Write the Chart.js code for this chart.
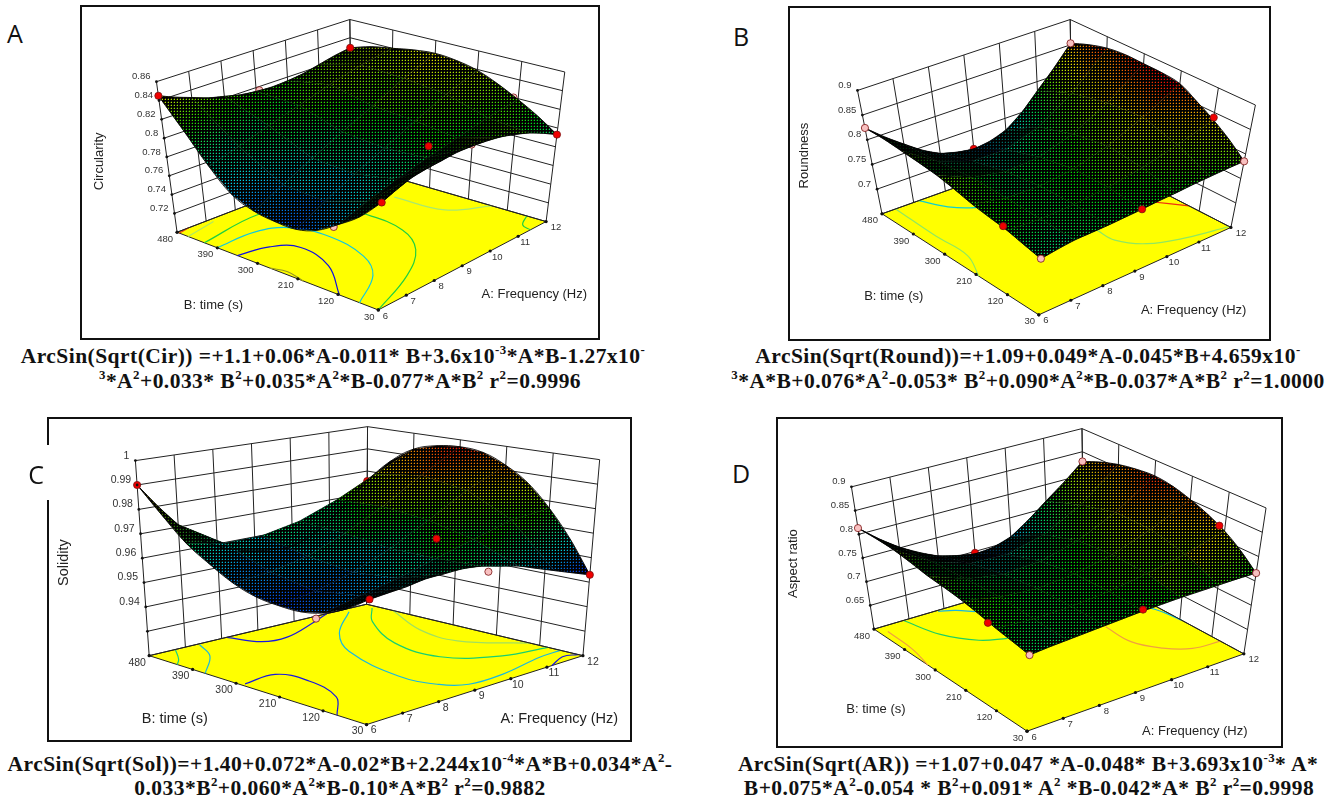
<!DOCTYPE html>
<html>
<head>
<meta charset="utf-8">
<title>Response surfaces</title>
<script src="https://cdn.jsdelivr.net/npm/chart.js@4"></script>
<style>
    html, body { margin: 0; background: #fff; }
    body { position: relative; width: 1342px; height: 800px; overflow: hidden; }
    canvas { position: absolute; display: block; }
    .box { position: absolute; border: 2px solid #111; box-sizing: border-box; pointer-events: none; }
    .patch { position: absolute; background: #fff; }
    .letter { position: absolute; font: 25px "Open Sans", sans-serif; color: #111; transform: translate(-50%, -50%); }
    .cap { position: absolute; font: bold 21.5px "Liberation Serif", serif; letter-spacing: 0.45px; color: #111; white-space: nowrap; transform: translate(-50%, -50%); }
    .cap sup { font-size: 0.6em; line-height: 0; }
</style>
</head>
<body>
<div class="patch" style="left:40px;top:445px;width:14px;height:55px;z-index:3"></div>
<div class="letter" style="left:15px;top:33px">A</div>
<div class="letter" style="left:741px;top:36px">B</div>
<div class="letter" style="left:36px;top:474px;z-index:4">C</div>
<div class="letter" style="left:741px;top:473px">D</div>

<div class="cap" style="left:333px;top:356px">ArcSin(Sqrt(Cir)) =+1.1+0.06*A-0.011* B+3.6x10<sup>-3</sup>*A*B-1.27x10<sup>-</sup></div>
<div class="cap" style="left:340px;top:381px"><sup>3</sup>*A<sup>2</sup>+0.033* B<sup>2</sup>+0.035*A<sup>2</sup>*B-0.077*A*B<sup>2</sup> r<sup>2</sup>=0.9996</div>
<div class="cap" style="left:1028px;top:356px">ArcSin(Sqrt(Round))=+1.09+0.049*A-0.045*B+4.659x10<sup>-</sup></div>
<div class="cap" style="left:1028px;top:381px"><sup>3</sup>*A*B+0.076*A<sup>2</sup>-0.053* B<sup>2</sup>+0.090*A<sup>2</sup>*B-0.037*A*B<sup>2</sup> r<sup>2</sup>=1.0000</div>
<div class="cap" style="left:340px;top:764px">ArcSin(Sqrt(Sol))=+1.40+0.072*A-0.02*B+2.244x10<sup>-4</sup>*A*B+0.034*A<sup>2</sup>-</div>
<div class="cap" style="left:340px;top:788px">0.033*B<sup>2</sup>+0.060*A<sup>2</sup>*B-0.10*A*B<sup>2</sup> r<sup>2</sup>=0.9882</div>
<div class="cap" style="left:1028px;top:764px">ArcSin(Sqrt(AR)) =+1.07+0.047 *A-0.048* B+3.693x10<sup>-3</sup>* A*</div>
<div class="cap" style="left:1029px;top:788px">B+0.075*A<sup>2</sup>-0.054 * B<sup>2</sup>+0.091* A<sup>2</sup> *B-0.042*A* B<sup>2</sup> r<sup>2</sup>=0.9998</div>

<script>
// ===== DATA =====
const freqTicks = [6, 7, 8, 9, 10, 11, 12];
const timeTicks = [480, 390, 300, 210, 120, 30];

const circularityTicks = [0.7, 0.72, 0.74, 0.76, 0.78, 0.8, 0.82, 0.84, 0.86];
const roundnessTicks = [0.65, 0.7, 0.75, 0.8, 0.85, 0.9];
const solidityTicks = [0.92, 0.93, 0.94, 0.95, 0.96, 0.97, 0.98, 0.99, 1];
const aspectTicks = [0.6, 0.65, 0.7, 0.75, 0.8, 0.85, 0.9];

// one row per time tick, one column per frequency tick
const circularity = [
    [.845, .832, .822, .816, .816, .822, .829],
    [.786, .795, .805, .815, .825, .834, .840],
    [.755, .770, .785, .800, .815, .832, .846],
    [.752, .768, .783, .797, .812, .827, .839],
    [.773, .783, .792, .800, .807, .814, .819],
    [.812, .823, .826, .826, .821, .810, .793]
];
const roundness = [
    [.824, .768, .726, .712, .727, .782, .853],
    [.817, .771, .748, .747, .768, .811, .877],
    [.806, .777, .764, .768, .789, .826, .880],
    [.787, .774, .772, .780, .801, .832, .874],
    [.774, .770, .772, .780, .792, .811, .835],
    [.757, .766, .768, .772, .777, .782, .785]
];
const solidity = [
    [.990, .971, .959, .954, .953, .961, .976],
    [.971, .968, .968, .971, .977, .985, .993],
    [.960, .961, .964, .970, .978, .988, .997],
    [.956, .958, .962, .968, .976, .985, .992],
    [.958, .961, .964, .968, .972, .976, .977],
    [.968, .969, .970, .969, .965, .959, .953]
];
const aspectRatio = [
    [.813, .752, .712, .695, .710, .765, .829],
    [.809, .761, .736, .733, .752, .793, .857],
    [.794, .765, .752, .756, .776, .813, .867],
    [.783, .767, .761, .767, .784, .812, .851],
    [.766, .761, .762, .768, .780, .796, .819],
    [.752, .757, .761, .765, .767, .767, .766]
];

// outline of each surface read half way between ticks:
// time 480 and time 30 edges (by frequency), frequency 6 and frequency 12 edges (by time)
const circularityB480 = [.838, .826, .818, .815, .818, .826];
const circularityB30 = [.818, .825, .827, .824, .816, .802];
const circularityA6 = [.815, .764, .752, .759, .789];
const circularityA12 = [.836, .844, .844, .830, .807];

const roundnessB480 = [.794, .744, .717, .716, .750, .815];
const roundnessB30 = [.762, .767, .770, .775, .780, .784];
const roundnessA6 = [.822, .812, .797, .780, .765];
const roundnessA12 = [.867, .881, .879, .855, .812];

const solidityB480 = [.980, .964, .956, .953, .956, .968];
const solidityB30 = [.9685, .970, .970, .967, .962, .956];
const solidityA6 = [.980, .965, .957, .956, .962];
const solidityA12 = [.986, .996, .996, .986, .966];

const aspectB480 = [.780, .730, .702, .698, .735, .795];
const aspectB30 = [.755, .759, .763, .766, .767, .767];
const aspectA6 = [.812, .802, .789, .775, .759];
const aspectA12 = [.845, .864, .862, .837, .795];

// design points as [frequency, time, response]
const circularityRed = [[6, 480, .845], [12, 480, .829], [12, 30, .793], [6, 30, .812], [8.7, 100, .82]];
const circularityPink = [[9.1, 480, .816], [12, 130, .82], [9, 30, .828], [6, 129, .769]];
const roundnessRed = [[12, 120, .84], [9, 30, .772], [6, 130, .778]];
const roundnessHidden = [[9, 480, .712]];
const roundnessPink = [[6, 480, .824], [12, 480, .853], [12, 30, .785], [6, 30, .757]];
const solidityRed = [[6, 480, .99], [12, 30, .953], [6, 30, .968], [9, 120, .976]];
const solidityHidden = [[12, 480, .9755]];
const solidityPink = [[9.2, 30, .966], [6, 135, .955]];
const aspectRed = [[12, 134, .825], [9, 30, .768], [6, 142, .768]];
const aspectHidden = [[9, 480, .697]];
const aspectPink = [[6, 480, .813], [12, 480, .829], [12, 30, .766], [6, 30, .752]];

// contour lines on the floor as [frequency, time]
const circularityLines = [
    [[6, 345], [6.9, 331], [7.37, 291], [7.03, 207], [6, 117]],
    [[6, 272], [6.13, 241], [6, 198]],
    [[6, 390], [7.3, 391], [8.07, 362], [8.3, 288], [7.97, 188], [7.3, 124], [6, 72]],
    [[6, 419], [8.16, 439], [9.67, 406], [9.84, 310], [9.68, 210], [9.02, 137], [7.8, 79], [6, 30]],
    [[11.06, 319], [11.18, 210], [12, 156]],
    [[12, 75], [11.55, 55], [11.44, 30]],
    [[6, 455], [7.1, 470]],
    [[6, 475], [6.4, 480]]
];
const circularityLineColors = ["#1010e0", "#9a9a20", "#10c8e0", "#20d040", "#a8e870", "#20d040", "#b0e860", "#f04010"];

const roundnessLines = [
    [[7.16, 480], [7.54, 431], [8.05, 399], [8.8, 380]],
    [[6.43, 480], [6.38, 359], [6.4, 271], [6, 202]],
    [[9.6, 195], [9.6, 142], [10.05, 92], [10.9, 59], [12, 35]],
    [[11.45, 213], [12, 149]]
];
const roundnessLineColors = ["#10d0d0", "#90e860", "#90e860", "#f03010"];

const solidityLines = [
    [[8.14, 480], [8.44, 430], [9.05, 423], [10.3, 459], [10.9, 480]],
    [[6.1, 289], [7, 294], [7.18, 241], [6.82, 154], [6, 91]],
    [[7.34, 476], [6.93, 424], [6, 364]],
    [[6.72, 480], [6.28, 440], [6, 422]],
    [[11.33, 466], [10, 386], [9.2, 306], [8.66, 163], [8.8, 89], [9.2, 57], [10.1, 55], [11.4, 75], [12, 77]],
    [[11.86, 458], [11.1, 400], [10.26, 291], [10.16, 189], [11, 123], [12, 103]],
    [[12, 425], [11.3, 317], [11.2, 231], [12, 140]],
    [[11.14, 30], [11.7, 50], [12, 40]]
];
const solidityLineColors = ["#1818e0", "#1818e0", "#18b8e0", "#18d080", "#18b8e0", "#18d070", "#a0e060", "#1818e0"];

const aspectLines = [
    [[6.2, 460], [6.16, 382], [6, 322]],
    [[6.84, 480], [7.14, 403], [7.7, 348], [8.3, 326]],
    [[7.8, 477], [8.17, 463], [8.5, 441]],
    [[11.84, 283], [11.95, 245], [12, 205]],
    [[10.45, 264], [10.44, 191], [10.8, 137], [11.3, 104], [12, 96]]
];
const aspectLineColors = ["#f0a040", "#20d060", "#18b8e0", "#18b8e0", "#f0a040"];

// ===== PANEL LAYOUT =====
const panels = [
    {
        name: "Circularity", box: [80, 5, 600, 340], values: circularity, zTicks: circularityTicks, zShown: 1,
        b480: circularityB480, b30: circularityB30, a6: circularityA6, a12: circularityA12,
        floor: [[174, 234], [352, 165], [379, 314], [550, 223]],
        top: [[153, 79], [350, 15], [384, 156], [569, 69]],
        red: circularityRed, hidden: [], pink: circularityPink, lines: circularityLines, lineColors: circularityLineColors,
        colorRange: [.74, .88], tickFont: 9.5, titleFont: 13,
        aTitle: [538, 298], bTitle: [211, 309], zTitle: [95, 161]
    },
    {
        name: "Roundness", box: [788, 6, 1271, 341], values: roundness, zTicks: roundnessTicks, zShown: 1,
        b480: roundnessB480, b30: roundnessB30, a6: roundnessA6, a12: roundnessA12,
        floor: [[879, 215], [1073, 145], [1039, 319], [1235, 229]],
        top: [[854, 88], [1071, 15], [1044, 184], [1260, 103]],
        red: roundnessRed, hidden: roundnessHidden, pink: roundnessPink, lines: roundnessLines, lineColors: roundnessLineColors,
        colorRange: [.68, .88], tickFont: 9.5, titleFont: 13,
        aTitle: [1197, 314], bTitle: [891, 300], zTitle: [800, 155]
    },
    {
        name: "Solidity", box: [47, 417, 632, 742], values: solidity, zTicks: solidityTicks, zShown: 2,
        b480: solidityB480, b30: solidityB30, a6: solidityA6, a12: solidityA12,
        floor: [[146, 658], [367, 605], [367, 729], [587, 658]],
        top: [[132, 457], [368, 422], [372, 514], [604, 456]],
        red: solidityRed, hidden: solidityHidden, pink: solidityPink, lines: solidityLines, lineColors: solidityLineColors,
        colorRange: [.953, .997], tickFont: 10.5, titleFont: 14.5,
        aTitle: [563, 723], bTitle: [172, 723], zTitle: [59, 562]
    },
    {
        name: "Aspect ratio", box: [776, 417, 1283, 748], values: aspectRatio, zTicks: aspectTicks, zShown: 1,
        b480: aspectB480, b30: aspectB30, a6: aspectA6, a12: aspectA12,
        floor: [[871, 630.5], [1085, 567], [1027, 735.6], [1248, 656]],
        top: [[848, 484], [1083, 424], [1032, 581], [1270.6, 505.7]],
        red: aspectRed, hidden: aspectHidden, pink: aspectPink, lines: aspectLines, lineColors: aspectLineColors,
        colorRange: [.67, .87], tickFont: 9.5, titleFont: 13,
        aTitle: [1198, 736], bTitle: [873, 713], zTitle: [789, 563]
    }
];

// ===== PROJECTION =====
function bilerp(corners, s, t, k) {
    const far = corners[0][k] + (corners[1][k] - corners[0][k]) * s;
    const near = corners[2][k] + (corners[3][k] - corners[2][k]) * s;
    return far + (near - far) * t;
}

function project(p, freq, time, z) {
    const s = (freq - 6) / 6;
    const t = (480 - time) / 450;
    const zMin = p.zTicks[0];
    const w = (z - zMin) / (p.zTicks[p.zTicks.length - 1] - zMin);
    const fx = bilerp(p.floor, s, t, 0);
    const fy = bilerp(p.floor, s, t, 1);
    return {
        x: fx + (bilerp(p.top, s, t, 0) - fx) * w,
        y: fy + (bilerp(p.top, s, t, 1) - fy) * w
    };
}

// ===== COLOURS =====
const palette = [[0, 0, 230], [0, 210, 230], [0, 220, 0], [240, 230, 0], [235, 0, 0]];

function colourFor(p, z, bright) {
    let v = (z - p.colorRange[0]) / (p.colorRange[1] - p.colorRange[0]);
    v = Math.max(0, Math.min(0.9999, v)) * (palette.length - 1);
    const i = Math.floor(v);
    const f = v - i;
    const rgb = [0, 1, 2].map(k => Math.round((palette[i][k] + (palette[i + 1][k] - palette[i][k]) * f) * bright));
    return `rgb(${rgb[0]},${rgb[1]},${rgb[2]})`;
}

function makeDotPattern(ctx) {
    const tile = document.createElement("canvas");
    tile.width = 3;
    tile.height = 3;
    const tc = tile.getContext("2d");
    tc.fillStyle = "#000";
    tc.fillRect(0, 0, 3, 3);
    tc.clearRect(1, 1, 1, 1);
    tc.clearRect(0, 1, 1, 1);
    tc.clearRect(1, 0, 1, 1);
    tc.fillStyle = "rgba(0,0,0,0.72)";
    tc.fillRect(0, 1, 1, 1);
    tc.fillRect(1, 0, 1, 1);
    return ctx.createPattern(tile, "repeat");
}

function polyArea(pts) {
    let a = 0;
    pts.forEach((q, i) => {
        const n = pts[(i + 1) % pts.length];
        a += q.x * n.y - n.x * q.y;
    });
    return Math.abs(a) / 2;
}

// ===== DATASETS =====
function lineSet(points, color, width) {
    return { data: points, showLine: true, borderColor: color, borderWidth: width, pointRadius: 0, fill: false };
}

function dotSet(p, list, fillColor) {
    return {
        data: list.map(d => project(p, d[0], d[1], d[2])),
        showLine: false, pointRadius: 3.6, pointBackgroundColor: fillColor,
        pointBorderColor: "#7a1010", pointBorderWidth: 0.8
    };
}

// corners of one mesh cell, with the half-way outline points where it touches an edge
function cellOutline(p, r, c) {
    const v = p.values;
    const pts = [];
    const lastC = freqTicks.length - 2;
    const lastR = timeTicks.length - 2;
    const midF = freqTicks[c] + 0.5;
    const midT = (timeTicks[r] + timeTicks[r + 1]) / 2;
    pts.push(project(p, freqTicks[c], timeTicks[r], v[r][c]));
    if (r == 0) pts.push(project(p, midF, 480, p.b480[c]));
    pts.push(project(p, freqTicks[c + 1], timeTicks[r], v[r][c + 1]));
    if (c == lastC) pts.push(project(p, 12, midT, p.a12[r]));
    pts.push(project(p, freqTicks[c + 1], timeTicks[r + 1], v[r + 1][c + 1]));
    if (r == lastR) pts.push(project(p, midF, 30, p.b30[c]));
    pts.push(project(p, freqTicks[c], timeTicks[r + 1], v[r + 1][c]));
    if (c == 0) pts.push(project(p, 6, midT, p.a6[r]));
    return pts;
}

function edgeLine(p, fixed, isFreq, rows, mids) {
    const pts = [];
    const ticks = isFreq ? timeTicks : freqTicks;
    ticks.forEach((tick, i) => {
        pts.push(isFreq ? project(p, fixed, tick, rows[i]) : project(p, tick, fixed, rows[i]));
        if (i < mids.length) {
            const mid = (tick + ticks[i + 1]) / 2;
            pts.push(isFreq ? project(p, fixed, mid, mids[i]) : project(p, mid, fixed, mids[i]));
        }
    });
    const set = lineSet(pts, "rgba(0,0,0,0.85)", 1);
    set.tension = 0.4;
    return set;
}

function buildDatasets(p, ctx, pattern) {
    const sets = [];
    const zMin = p.zTicks[0];
    const zMax = p.zTicks[p.zTicks.length - 1];
    const ox = p.box[0];
    const oy = p.box[1];

    // yellow floor
    const floorShape = [[6, 480], [12, 480], [12, 30], [6, 30], [6, 480]].map(c => project(p, c[0], c[1], zMin));
    sets.push({
        data: floorShape, showLine: true, fill: "shape", backgroundColor: "#ffff00",
        borderColor: "#222", borderWidth: 1, pointRadius: 0
    });

    p.lines.forEach((line, i) => {
        const set = lineSet(line.map(c => project(p, c[0], c[1], zMin)), p.lineColors[i], 1.2);
        set.tension = 0.4;
        sets.push(set);
    });

    // back walls
    freqTicks.forEach(a => {
        sets.push(lineSet([project(p, a, 480, zMin), project(p, a, 480, zMax)], "#222", 1));
    });
    timeTicks.forEach(b => {
        sets.push(lineSet([project(p, 12, b, zMin), project(p, 12, b, zMax)], "#222", 1));
    });
    p.zTicks.forEach(z => {
        sets.push(lineSet([project(p, 6, 480, z), project(p, 12, 480, z), project(p, 12, 30, z)], "#222", 1));
    });

    // points under the surface
    if (p.hidden.length) sets.push(dotSet(p, p.hidden, "#f00000"));
    sets.push(dotSet(p, p.pink.filter(d => d[0] != 6 && d[0] != 12 || d[1] != 480 && d[1] != 30), "#f8c0c0"));

    // surface, far cells first
    const floorArea = polyArea([floorShape[0], floorShape[1], floorShape[2], floorShape[3]]);
    const cellArea = floorArea / ((freqTicks.length - 1) * (timeTicks.length - 1));
    for (let r = 0; r < timeTicks.length - 1; r++) {
        for (let c = freqTicks.length - 2; c >= 0; c--) {
            const cells = [[r, c], [r, c + 1], [r + 1, c + 1], [r + 1, c]];
            const corners = cells.map(q => project(p, freqTicks[q[1]], timeTicks[q[0]], p.values[q[0]][q[1]]));
            const zs = cells.map(q => p.values[q[0]][q[1]]);
            const bright = Math.max(0.1, Math.min(1, Math.pow(polyArea(corners) / cellArea, 1.4)));
            const lo = zs.indexOf(Math.min(...zs));
            const hi = zs.indexOf(Math.max(...zs));
            const grad = ctx.createLinearGradient(corners[lo].x - ox, corners[lo].y - oy, corners[hi].x - ox, corners[hi].y - oy);
            grad.addColorStop(0, colourFor(p, zs[lo], bright));
            grad.addColorStop(0.5, colourFor(p, (zs[lo] + zs[hi]) / 2, bright));
            grad.addColorStop(1, colourFor(p, zs[hi], bright));
            const pts = cellOutline(p, r, c);
            const shape = pts.concat([pts[0]]);
            sets.push({
                data: shape, showLine: true, fill: "shape", backgroundColor: grad,
                borderColor: "rgba(0,0,0,0.6)", borderWidth: 0.5, pointRadius: 0
            });
            sets.push({
                data: shape, showLine: true, fill: "shape", backgroundColor: pattern,
                borderColor: "rgba(0,0,0,0)", borderWidth: 0, pointRadius: 0
            });
        }
    }

    // smooth dark outline of the surface
    sets.push(edgeLine(p, 480, false, p.values[0], p.b480));
    sets.push(edgeLine(p, 30, false, p.values[timeTicks.length - 1], p.b30));
    sets.push(edgeLine(p, 6, true, p.values.map(row => row[0]), p.a6));
    sets.push(edgeLine(p, 12, true, p.values.map(row => row[freqTicks.length - 1]), p.a12));

    // points on top
    sets.push(dotSet(p, p.red, "#f00000"));
    sets.push(dotSet(p, p.pink.filter(d => (d[0] == 6 || d[0] == 12) && (d[1] == 480 || d[1] == 30)), "#f8c0c0"));

    // tick marks along the front edges
    sets.push({ data: freqTicks.map(a => project(p, a, 30, zMin)), showLine: false, pointRadius: 1.6, pointBackgroundColor: "#111", pointBorderWidth: 0 });
    sets.push({ data: timeTicks.map(b => project(p, 6, b, zMin)), showLine: false, pointRadius: 1.6, pointBackgroundColor: "#111", pointBorderWidth: 0 });
    sets.push({ data: p.zTicks.map(z => project(p, 6, 480, z)), showLine: false, pointRadius: 1.4, pointBackgroundColor: "#111", pointBorderWidth: 0 });

    // later sets paint on top
    sets.forEach((d, i) => { d.order = -i; });
    return sets;
}

// ===== AXIS TEXT =====
const axisText = {
    id: "axisText",
    afterDraw(chart, args, opts) {
        const p = opts.panel;
        const c = chart.ctx;
        const sx = chart.scales.x;
        const sy = chart.scales.y;
        const zMin = p.zTicks[0];
        const put = (txt, pos, dx, dy) => c.fillText(txt, sx.getPixelForValue(pos.x) + dx, sy.getPixelForValue(pos.y) + dy);

        c.save();
        c.fillStyle = "#333";
        c.textBaseline = "middle";
        c.font = `${p.tickFont}px "Liberation Sans", sans-serif`;

        c.textAlign = "right";
        p.zTicks.slice(p.zShown).forEach(z => {
            put(String(z), project(p, 6, 480, z), -6, -5);
        });

        c.textAlign = "center";
        timeTicks.forEach(b => {
            put(String(b), project(p, 6, b, zMin), b == 30 ? -9 : -12, 7);
        });
        freqTicks.forEach(a => {
            put(String(a), project(p, a, 30, zMin), a == 12 ? 10 : 7, 6);
        });

        c.fillStyle = "#222";
        c.font = `${p.titleFont}px "Liberation Sans", sans-serif`;
        put("A: Frequency (Hz)", { x: p.aTitle[0], y: p.aTitle[1] }, 0, 0);
        put("B: time (s)", { x: p.bTitle[0], y: p.bTitle[1] }, 0, 0);
        c.translate(sx.getPixelForValue(p.zTitle[0]), sy.getPixelForValue(p.zTitle[1]));
        c.rotate(-Math.PI / 2);
        c.fillText(p.name, 0, 0);
        c.restore();
    }
};

// ===== DRAW =====
panels.forEach(p => {
    const left = p.box[0], topY = p.box[1], w = p.box[2] - left, h = p.box[3] - topY;
    const canvas = document.createElement("canvas");
    canvas.width = w;
    canvas.height = h;
    canvas.style.left = left + "px";
    canvas.style.top = topY + "px";
    document.body.appendChild(canvas);

    const frame = document.createElement("div");
    frame.className = "box";
    frame.style.cssText = `left:${left}px;top:${topY}px;width:${w}px;height:${h}px`;
    document.body.appendChild(frame);

    const ctx = canvas.getContext("2d");
    new Chart(ctx, {
        type: "scatter",
        data: { datasets: buildDatasets(p, ctx, makeDotPattern(ctx)) },
        options: {
            responsive: false,
            animation: false,
            layout: { padding: 0 },
            plugins: { legend: { display: false }, tooltip: { enabled: false }, axisText: { panel: p } },
            scales: {
                x: { type: "linear", display: false, min: left, max: p.box[2] },
                y: { type: "linear", display: false, min: topY, max: p.box[3], reverse: true }
            }
        },
        plugins: [axisText]
    });
});
</script>
</body>
</html>
